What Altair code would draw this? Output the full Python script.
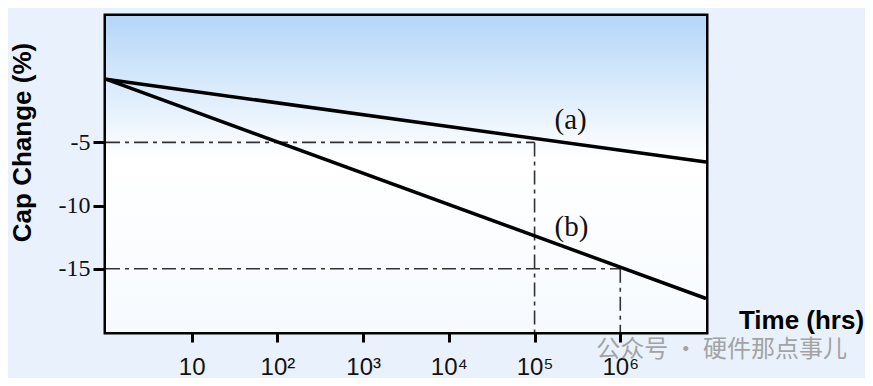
import altair as alt
import pandas as pd

# ---- data ----
time_hrs = [1, 1e7]
cap_a = [0.0, -6.55]
cap_b = [0.0, -17.35]

ref_x = [1, 1e5, 1, 1e6]
ref_y = [-5, -5, -15, -15]
ref_x2 = [1e5, 1e5, 1e6, 1e6]
ref_y2 = [-5, -20, -15, -20]

label_text = ["(a)", "(b)"]
label_x = [10 ** 5.42, 10 ** 5.43]
label_y = [-3.26, -11.69]

x_tick_values = [10, 1e2, 1e3, 1e4, 1e5, 1e6]
x_tick_labels = ["10", "10²", "10³", "10⁴", "10⁵", "10⁶"]
y_tick_values = [-5, -10, -15]

watermark_text = ["公众号 · 硬件那点事儿"]
watermark_x = [10 ** 5.72]
watermark_y = [-21.4]

# ---- tables ----
lines = pd.DataFrame({
    "t": time_hrs * 2,
    "c": cap_a + cap_b,
    "s": ["a"] * 2 + ["b"] * 2,
})
refs = pd.DataFrame({"x": ref_x, "y": ref_y, "x2": ref_x2, "y2": ref_y2})
labels = pd.DataFrame({"x": label_x, "y": label_y, "t": label_text})
wm = pd.DataFrame({"x": watermark_x, "y": watermark_y, "t": watermark_text})

label_expr = " : ".join(
    f"datum.value == {v} ? '{l}'" for v, l in zip(x_tick_values, x_tick_labels)
) + " : ''"

xscale = alt.Scale(type="log", domain=[1, 1e7], nice=False)
yscale = alt.Scale(domain=[-20, 5], nice=False, zero=False)

xaxis = alt.Axis(
    values=x_tick_values, labelExpr=label_expr, domain=False, grid=False,
    tickSize=10, tickWidth=3, tickColor="black",
    labelFont="Liberation Sans", labelFontSize=24, labelColor="#111",
    labelPadding=13, labelFlush=False,
    title="Time (hrs)", titleFont="Liberation Sans", titleFontSize=26,
    titleFontWeight="bold", titleColor="black", titleX=695, titleY=-12,
    titleAlign="center", titleBaseline="middle",
)
yaxis = alt.Axis(
    values=y_tick_values, labelExpr="'' + datum.value", domain=False, grid=False,
    tickSize=13, tickWidth=3, tickColor="black",
    labelFont="Liberation Serif", labelFontSize=24, labelColor="#111",
    labelPadding=3, labelBaseline="middle",
    title="Cap Change (%)", titleFont="Liberation Sans", titleFontSize=26,
    titleFontWeight="bold", titleColor="black", titleX=-84, titleY=126,
    titleAlign="center", titleBaseline="middle", titleAngle=270,
)

bg = alt.Chart(pd.DataFrame({"d": [0]})).mark_rect(
    color=alt.LinearGradient(
        gradient="linear", x1=0, y1=0, x2=0, y2=1,
        stops=[
            alt.GradientStop(offset=0, color="#b4d6f8"),
            alt.GradientStop(offset=0.45, color="#ffffff"),
            alt.GradientStop(offset=1, color="#f6fafe"),
        ],
    )
).encode(x=alt.value(0), x2=alt.value("width"), y=alt.value(0), y2=alt.value("height"))

ref_layer = alt.Chart(refs).mark_rule(
    color="#333", strokeWidth=1.6, strokeDash=[14, 5, 4, 5]
).encode(
    x=alt.X("x:Q", scale=xscale, axis=xaxis),
    y=alt.Y("y:Q", scale=yscale, axis=yaxis),
    x2="x2:Q", y2="y2:Q",
)

line_layer = alt.Chart(lines).mark_line(color="black", strokeWidth=3.5).encode(
    x=alt.X("t:Q", scale=xscale),
    y=alt.Y("c:Q", scale=yscale),
    detail="s:N",
)

text_layer = alt.Chart(labels).mark_text(
    font="Liberation Serif", fontSize=29, color="#111", align="center", baseline="middle"
).encode(x=alt.X("x:Q", scale=xscale), y=alt.Y("y:Q", scale=yscale), text="t:N")

wm_layer = alt.Chart(wm).mark_text(
    font="Noto Sans CJK SC", fontSize=24, color="#a3a3a3", align="left", baseline="middle"
).encode(x=alt.X("x:Q", scale=xscale), y=alt.Y("y:Q", scale=yscale), text="t:N")

chart = alt.layer(bg, ref_layer, line_layer, text_layer, wm_layer).properties(
    width=600, height=316,
    autosize=alt.AutoSizeParams(type="none"),
    padding={"left": 98, "top": 8, "right": 159, "bottom": 46},
    background="#e9f2fc",
).configure_view(stroke="black", strokeWidth=5)

chart.save("out.html", embed_options={"renderer": "svg", "actions": False})
